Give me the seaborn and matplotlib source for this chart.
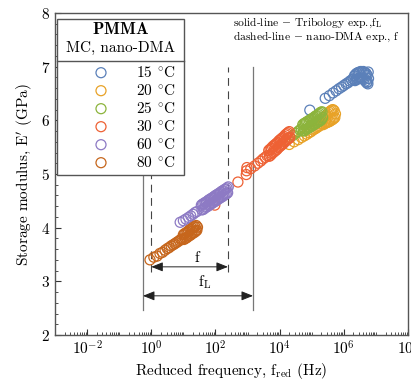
import numpy as np
import pandas as pd
import matplotlib
matplotlib.use("Agg")
import matplotlib.pyplot as plt
import seaborn as sns
from matplotlib.patches import Rectangle
from matplotlib.ticker import FixedLocator, LogLocator, MultipleLocator, NullFormatter

# data: log10 of reduced frequency (Hz) and storage modulus (GPa) per temperature
logf_15 = [4.94, 5.42, 5.55, 5.66, 5.76, 5.85, 5.93, 6.00, 6.07, 6.13, 6.19, 6.24, 6.29,
           6.33, 6.35, 6.37, 6.39, 6.41, 6.43, 6.45, 6.47, 6.49, 6.51, 6.53, 6.55, 6.57, 6.59,
           6.61, 6.63, 6.65, 6.67, 6.69, 6.71, 6.73, 6.75, 6.77, 6.76, 6.74]
E_15 = [6.19, 6.41, 6.46, 6.51, 6.55, 6.59, 6.62, 6.65, 6.68, 6.70, 6.73, 6.75, 6.77,
        6.83, 6.74, 6.86, 6.76, 6.88, 6.77, 6.89, 6.78, 6.90, 6.79, 6.91, 6.78, 6.90, 6.77,
        6.91, 6.76, 6.89, 6.73, 6.88, 6.70, 6.84, 6.68, 6.78, 6.90, 6.72]

logf_20 = [4.30, 4.45, 4.58, 4.68, 4.77, 4.85, 4.92, 4.98, 5.04, 5.10, 5.15, 5.20, 5.25, 5.30,
           5.34, 5.36, 5.38, 5.40, 5.42, 5.44, 5.46, 5.48, 5.50, 5.52, 5.54, 5.56, 5.58, 5.60,
           5.62, 5.64, 5.66, 5.68, 5.70, 5.72, 5.74]
E_20 = [5.55, 5.60, 5.64, 5.68, 5.71, 5.74, 5.77, 5.79, 5.82, 5.84, 5.86, 5.88, 5.90, 5.93,
        6.02, 5.92, 6.05, 5.94, 6.08, 5.95, 6.10, 5.96, 6.12, 5.97, 6.15, 5.98, 6.17, 6.00,
        6.19, 6.01, 6.20, 6.03, 6.18, 6.05, 6.12]

logf_25 = [4.20, 4.32, 4.42, 4.50, 4.57, 4.63, 4.68,
           4.72, 4.74, 4.76, 4.78, 4.80, 4.82, 4.84, 4.86, 4.88, 4.90, 4.92, 4.94, 4.96, 4.98,
           5.00, 5.02, 5.04, 5.06, 5.08, 5.10, 5.12, 5.14, 5.16, 5.18, 5.20, 5.22, 5.24, 5.26,
           5.28, 5.30, 5.32, 5.34]
E_25 = [5.62, 5.68, 5.72, 5.76, 5.79, 5.82, 5.84,
        5.92, 5.80, 5.94, 5.81, 5.95, 5.83, 5.97, 5.84, 5.98, 5.86, 6.00, 5.87, 6.01, 5.89,
        6.03, 5.90, 6.04, 5.92, 6.06, 5.93, 6.08, 5.95, 6.09, 5.96, 6.11, 5.98, 6.13, 5.99,
        6.15, 6.01, 6.16, 6.05]

logf_30 = [1.98, 2.70, 2.96, 2.97, 2.98, 3.10, 3.22, 3.32, 3.41, 3.48, 3.55, 3.61,
           3.66, 3.68, 3.70, 3.72, 3.74, 3.76, 3.78, 3.80, 3.82, 3.84, 3.86, 3.88, 3.90, 3.92,
           3.94, 3.96, 3.98, 4.00, 4.02, 4.04, 4.06, 4.08, 4.10, 4.12, 4.14, 4.16, 4.18, 4.20,
           4.22, 4.24, 4.26, 4.28, 4.30, 4.32]
E_30 = [4.42, 4.85, 4.99, 5.06, 5.12, 5.10, 5.15, 5.20, 5.24, 5.28, 5.31, 5.34,
        5.44, 5.33, 5.46, 5.35, 5.48, 5.38, 5.51, 5.40, 5.53, 5.42, 5.55, 5.44, 5.57, 5.46,
        5.59, 5.49, 5.62, 5.51, 5.64, 5.53, 5.66, 5.55, 5.68, 5.57, 5.70, 5.60, 5.73, 5.62,
        5.75, 5.64, 5.77, 5.66, 5.79, 5.68]

logf_60 = [0.90, 1.00, 1.08, 1.16, 1.23, 1.30, 1.36, 1.42,
           1.56, 1.58, 1.60, 1.62, 1.64, 1.66, 1.68, 1.70, 1.72, 1.74, 1.76, 1.78, 1.80, 1.82,
           1.84, 1.86, 1.88, 1.90, 1.92, 1.94, 1.96, 1.98, 2.00, 2.02, 2.04, 2.06, 2.08, 2.10,
           2.12, 2.14, 2.16, 2.18, 2.20, 2.22, 2.24, 2.26, 2.28, 2.30, 2.32, 2.34, 2.36, 2.38,
           2.40]
E_60 = [4.10, 4.13, 4.16, 4.19, 4.22, 4.25, 4.28, 4.30,
        4.42, 4.33, 4.44, 4.34, 4.45, 4.36, 4.47, 4.38, 4.48, 4.39, 4.50, 4.41, 4.52, 4.42,
        4.53, 4.44, 4.55, 4.46, 4.56, 4.47, 4.58, 4.49, 4.60, 4.50, 4.61, 4.52, 4.63, 4.54,
        4.64, 4.55, 4.66, 4.57, 4.68, 4.58, 4.69, 4.60, 4.71, 4.62, 4.72, 4.63, 4.74, 4.65,
        4.76]

logf_80 = [-0.04, 0.08, 0.18, 0.27, 0.35, 0.43, 0.50, 0.56, 0.62, 0.68, 0.73, 0.78, 0.83,
           0.88, 0.92, 0.96,
           1.00, 1.02, 1.04, 1.06, 1.08, 1.10, 1.12, 1.14, 1.16, 1.18, 1.20, 1.22, 1.24, 1.26,
           1.28, 1.30, 1.32, 1.34, 1.36, 1.38, 1.40, 1.42, 1.44]
E_80 = [3.40, 3.45, 3.47, 3.52, 3.54, 3.58, 3.61, 3.63, 3.66, 3.68, 3.70, 3.72, 3.74,
        3.76, 3.78, 3.79,
        3.87, 3.78, 3.89, 3.80, 3.90, 3.81, 3.92, 3.83, 3.94, 3.85, 3.96, 3.86, 3.97, 3.88,
        3.99, 3.90, 4.01, 3.91, 4.02, 3.93, 4.04, 3.95, 4.01]

temps = ["15", "20", "25", "30", "60", "80"]
colors = ["#5b80b9", "#e8a227", "#8cb43c", "#ee6134", "#8d7ac4", "#c6661c"]
series = {
    "15": (logf_15, E_15), "20": (logf_20, E_20), "25": (logf_25, E_25),
    "30": (logf_30, E_30), "60": (logf_60, E_60), "80": (logf_80, E_80),
}

# frequency windows (Hz): nano-DMA (dashed) and tribology (solid)
f_dma = [1.0, 245.0]
f_trib = [0.55, 1480.0]

plt.rcParams["font.family"] = ["cmr10", "DejaVu Serif"]
plt.rcParams["mathtext.fontset"] = "cm"
plt.rcParams["axes.formatter.use_mathtext"] = True
plt.rcParams["axes.unicode_minus"] = False

fig = plt.figure(figsize=(4.11, 3.80), dpi=100)
ax = fig.add_axes([55 / 411, 45 / 380, 353 / 411, 322 / 380])

for t, c in zip(temps, colors):
    lf, E = series[t]
    df = pd.DataFrame({"freq": 10 ** np.array(lf), "E": E})
    sns.scatterplot(data=df, x="freq", y="E", ax=ax, marker="o", s=52,
                    facecolor="none", edgecolor=c, linewidth=0.9, zorder=3)

# window lines
ax.plot([f_trib[0]] * 2, [2.47, 7.0], color="#777777", lw=0.9, zorder=2)
ax.plot([f_trib[1]] * 2, [2.47, 7.0], color="#777777", lw=0.9, zorder=2)
ax.plot([f_dma[0]] * 2, [3.17, 7.0], color="#444444", lw=0.8, ls=(0, (7, 5)), zorder=2)
ax.plot([f_dma[1]] * 2, [3.17, 7.0], color="#444444", lw=0.8, ls=(0, (7, 5)), zorder=2)

arrow = dict(arrowstyle="<|-|>,head_length=0.7,head_width=0.28", color="#222222", lw=0.7,
             shrinkA=0, shrinkB=0, mutation_scale=10)
ax.annotate("", xy=(f_dma[1], 3.27), xytext=(f_dma[0], 3.27), arrowprops=arrow, zorder=4)
ax.annotate("", xy=(f_trib[1], 2.73), xytext=(f_trib[0], 2.73), arrowprops=arrow, zorder=4)
ax.text(26, 3.43, "f", ha="center", va="center", fontsize=11)
ax.text(46, 2.99, r"f$_{\mathrm{L}}$", ha="center", va="center", fontsize=11)

ax.text(0.504, 0.969, r"solid-line $-$ Tribology exp.,f$_{\mathrm{L}}$", transform=ax.transAxes,
        ha="left", va="center", fontsize=8.3)
ax.text(0.504, 0.925, r"dashed-line $-$ nano-DMA exp., f", transform=ax.transAxes,
        ha="left", va="center", fontsize=8.3)

# legend box drawn by hand
def px(x, y):
    return (x - 55) / 353, (335 - y) / 322

x0, y0 = px(57, 175)
x1, y1 = px(184, 19)
ax.add_patch(Rectangle((x0, y0), x1 - x0, y1 - y0, transform=ax.transAxes, fc="white",
                       ec="#555555", lw=1.0, zorder=10))
ax.plot([x0, x1], [px(0, 61)[1]] * 2, transform=ax.transAxes, color="#555555", lw=1.0, zorder=11)
ax.text(*px(121, 29), r"$\mathbf{PMMA}$", transform=ax.transAxes, ha="center", va="center",
        fontsize=12, zorder=11)
ax.text(*px(121, 48), "MC, nano-DMA", transform=ax.transAxes, ha="center", va="center",
        fontsize=11, zorder=11)
rows = [72.7, 90.7, 108.7, 126.7, 144.7, 162.7]
for t, c, yy in zip(temps, colors, rows):
    mx, my = px(101, yy)
    ax.scatter([mx], [my], transform=ax.transAxes, s=52, facecolor="none", edgecolor=c,
               linewidth=0.9, zorder=11, clip_on=False)
    ax.text(*px(135.5, yy), t + r" $^{\circ}$C", transform=ax.transAxes, ha="left",
            va="center", fontsize=11, zorder=11)

ax.set_xscale("log")
ax.set_xlim(1e-3, 1e8)
ax.set_ylim(2, 8)
ax.xaxis.set_major_locator(FixedLocator([1e-2, 1e0, 1e2, 1e4, 1e6, 1e8]))
ax.xaxis.set_minor_locator(LogLocator(base=10, subs=np.arange(1, 10), numticks=200))
ax.xaxis.set_minor_formatter(NullFormatter())
ax.yaxis.set_major_locator(MultipleLocator(1))
ax.yaxis.set_minor_locator(MultipleLocator(0.2))
ax.tick_params(which="both", direction="in", top=False, right=False, labelsize=11, color="#333333")
ax.tick_params(which="major", length=4)
ax.tick_params(which="minor", length=2)
for s in ax.spines.values():
    s.set_color("#555555")
    s.set_linewidth(1.0)

ax.set_xlabel(r"Reduced frequency, f$_{\mathrm{red}}$ (Hz)", fontsize=11, labelpad=2)
ax.set_ylabel(r"Storage modulus, E$^{\prime}$ (GPa)", fontsize=11, labelpad=4)

fig.savefig("out.png", dpi=100)
